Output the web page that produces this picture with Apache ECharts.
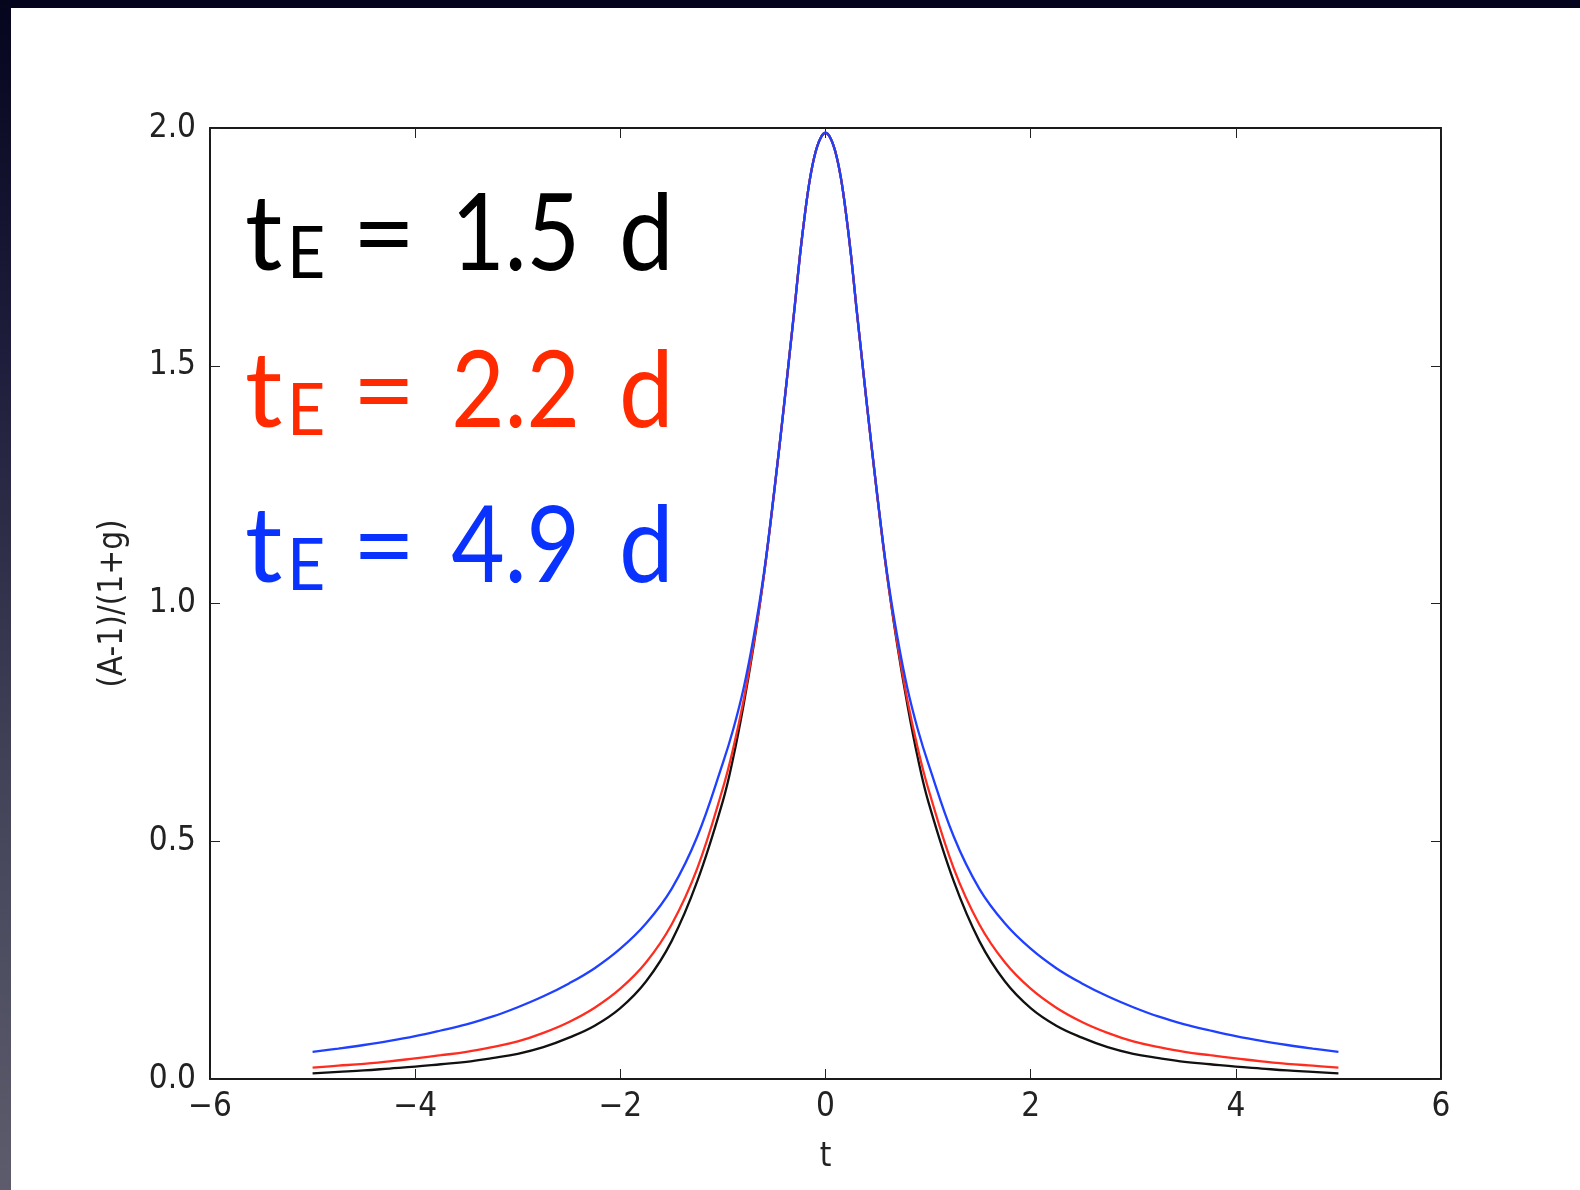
<!DOCTYPE html>
<html>
<head>
<meta charset="utf-8">
<script src="https://cdn.jsdelivr.net/npm/echarts@6/dist/echarts.min.js"></script>
<style>
  html, body { margin: 0; padding: 0; background: #fff; }
  #chart { width: 1580px; height: 1190px; }
</style>
</head>
<body>
<div id="chart"></div>
<script>
// time (d)
const tVals = [-5, -4.75, -4.5, -4.25, -4, -3.75, -3.5, -3.25, -3, -2.75, -2.5, -2.25, -2, -1.75, -1.5, -1.25, -1, -0.9, -0.8, -0.7, -0.6, -0.5, -0.4, -0.35, -0.3, -0.25, -0.2, -0.15, -0.1, -0.05,
  0,
  0.05, 0.1, 0.15, 0.2, 0.25, 0.3, 0.35, 0.4, 0.5, 0.6, 0.7, 0.8, 0.9, 1, 1.25, 1.5, 1.75, 2, 2.25, 2.5, 2.75, 3, 3.25, 3.5, 3.75, 4, 4.25, 4.5, 4.75, 5];

const blackVals = [0.012, 0.015, 0.018, 0.022, 0.026, 0.031, 0.036, 0.044, 0.053, 0.067, 0.087, 0.112, 0.149, 0.205, 0.29, 0.416, 0.585, 0.675, 0.785, 0.912, 1.06, 1.235, 1.425, 1.525, 1.625, 1.73, 1.82, 1.895, 1.947, 1.978,
  1.99,
  1.978, 1.947, 1.895, 1.82, 1.73, 1.625, 1.525, 1.425, 1.235, 1.06, 0.912, 0.785, 0.675, 0.585, 0.416, 0.29, 0.205, 0.149, 0.112, 0.087, 0.067, 0.053, 0.044, 0.036, 0.031, 0.026, 0.022, 0.018, 0.015, 0.012];

const redVals = [0.024, 0.028, 0.032, 0.037, 0.0435, 0.05, 0.057, 0.067, 0.079, 0.097, 0.12, 0.15, 0.19, 0.245, 0.325, 0.443, 0.612, 0.695, 0.795, 0.917, 1.06, 1.235, 1.425, 1.525, 1.625, 1.73, 1.82, 1.895, 1.947, 1.978,
  1.99,
  1.978, 1.947, 1.895, 1.82, 1.73, 1.625, 1.525, 1.425, 1.235, 1.06, 0.917, 0.795, 0.695, 0.612, 0.443, 0.325, 0.245, 0.19, 0.15, 0.12, 0.097, 0.079, 0.067, 0.057, 0.05, 0.0435, 0.037, 0.032, 0.028, 0.024];

const blueVals = [0.057, 0.064, 0.0715, 0.08, 0.09, 0.102, 0.115, 0.131, 0.151, 0.174, 0.201, 0.233, 0.274, 0.327, 0.4, 0.51, 0.665, 0.735, 0.82, 0.93, 1.065, 1.237, 1.425, 1.525, 1.625, 1.73, 1.82, 1.895, 1.947, 1.978,
  1.99,
  1.978, 1.947, 1.895, 1.82, 1.73, 1.625, 1.525, 1.425, 1.237, 1.065, 0.93, 0.82, 0.735, 0.665, 0.51, 0.4, 0.327, 0.274, 0.233, 0.201, 0.174, 0.151, 0.131, 0.115, 0.102, 0.09, 0.08, 0.0715, 0.064, 0.057];

const tEVals = ['1.5', '2.2', '4.9'];
const tEColors = ['#000000', '#ff2a00', '#0a32ff'];

const chart = echarts.init(document.getElementById('chart'));

const tickFont = '"DejaVu Sans Condensed", "DejaVu Sans", sans-serif';
const bigFont = 'Lato, "Open Sans", sans-serif';

function pairs(vals) {
  return tVals.map((t, i) => [t, vals[i]]);
}

// big t_E annotations, one line per value
let labels = [];
const baselines = [270, 427, 582];
tEVals.forEach((v, i) => {
  const base = baselines[i];
  const fill = tEColors[i];
  labels.push(
    { type: 'text', x: 245, y: base - 34, style: { text: 't', fill: fill, font: '104px ' + bigFont, verticalAlign: 'middle' } },
    { type: 'text', x: 287, y: base - 15, scaleX: 0.92, style: { text: 'E', fill: fill, font: '72px ' + bigFont, verticalAlign: 'middle' } },
    { type: 'text', x: 384, y: base - 34, scaleX: 1.05, style: { text: '=', fill: fill, font: '104px ' + bigFont, verticalAlign: 'middle', align: 'center' } },
    { type: 'text', x: 580, y: base - 34, scaleX: 0.87, style: { text: v, fill: fill, font: '106px ' + bigFont, verticalAlign: 'middle', align: 'right' } },
    { type: 'text', x: 619, y: base - 34, scaleX: 0.92, style: { text: 'd', fill: fill, font: '106px ' + bigFont, verticalAlign: 'middle' } }
  );
});

let option = {
  animation: false,
  backgroundColor: '#ffffff',
  graphic: [
    // slide frame: dark band on top and a gradient band on the left
    { type: 'rect', shape: { x: 0, y: 0, width: 1580, height: 8 }, style: { fill: '#04041c' }, z: 100 },
    {
      type: 'rect', shape: { x: 0, y: 0, width: 11, height: 1190 }, z: 100,
      style: {
        fill: new echarts.graphic.LinearGradient(0, 0, 0, 1, [
          { offset: 0, color: '#05051e' },
          { offset: 0.3, color: '#1e1e3c' },
          { offset: 0.7, color: '#47475c' },
          { offset: 1, color: '#5c5c6c' }
        ])
      }
    }
  ].concat(labels),
  grid: {
    left: 210,
    top: 128,
    right: 139,
    bottom: 111,
    outerBoundsMode: 'none'
  },
  xAxis: [
    {
      type: 'value',
      min: -6,
      max: 6,
      interval: 2,
      position: 'bottom',
      name: 't',
      nameLocation: 'middle',
      nameGap: 62,
      nameTextStyle: { fontFamily: tickFont, fontSize: 33, color: '#222' },
      axisLine: { show: true, onZero: false, lineStyle: { color: '#1a1a1a', width: 2 } },
      axisTick: { show: true, inside: true, length: 10, lineStyle: { color: '#222', width: 1 } },
      axisLabel: {
        fontFamily: tickFont, fontSize: 33, color: '#222', margin: 12,
        formatter: v => String(v).replace('-', '\u2212')
      },
      splitLine: { show: false }
    },
    {
      type: 'value',
      min: -6,
      max: 6,
      interval: 2,
      position: 'top',
      axisLine: { show: true, onZero: false, lineStyle: { color: '#1a1a1a', width: 2 } },
      axisTick: { show: true, inside: true, length: 10, lineStyle: { color: '#222', width: 1 } },
      axisLabel: { show: false },
      splitLine: { show: false }
    }
  ],
  yAxis: [
    {
      type: 'value',
      min: 0,
      max: 2,
      interval: 0.5,
      position: 'left',
      name: '(A-1)/(1+g)',
      nameLocation: 'middle',
      nameGap: 80,
      nameRotate: 90,
      nameTextStyle: { fontFamily: tickFont, fontSize: 33, color: '#222' },
      axisLine: { show: true, onZero: false, lineStyle: { color: '#1a1a1a', width: 2 } },
      axisTick: { show: true, inside: true, length: 10, lineStyle: { color: '#222', width: 1 } },
      axisLabel: {
        fontFamily: tickFont, fontSize: 33, color: '#222', margin: 14,
        formatter: v => v.toFixed(1)
      },
      splitLine: { show: false }
    },
    {
      type: 'value',
      min: 0,
      max: 2,
      interval: 0.5,
      position: 'right',
      axisLine: { show: true, onZero: false, lineStyle: { color: '#1a1a1a', width: 2 } },
      axisTick: { show: true, inside: true, length: 10, lineStyle: { color: '#222', width: 1 } },
      axisLabel: { show: false },
      splitLine: { show: false }
    }
  ],
  series: [
    {
      name: 'tE = 1.5 d',
      type: 'line',
      data: pairs(blackVals),
      smooth: 0.4,
      showSymbol: false,
      lineStyle: { color: '#111111', width: 2.3 },
      z: 2
    },
    {
      name: 'tE = 2.2 d',
      type: 'line',
      data: pairs(redVals),
      smooth: 0.4,
      showSymbol: false,
      lineStyle: { color: '#ff2d20', width: 2.3 },
      z: 3
    },
    {
      name: 'tE = 4.9 d',
      type: 'line',
      data: pairs(blueVals),
      smooth: 0.4,
      showSymbol: false,
      lineStyle: { color: '#2040ff', width: 2.3 },
      z: 4
    }
  ]
};

chart.setOption(option);
</script>
</body>
</html>
